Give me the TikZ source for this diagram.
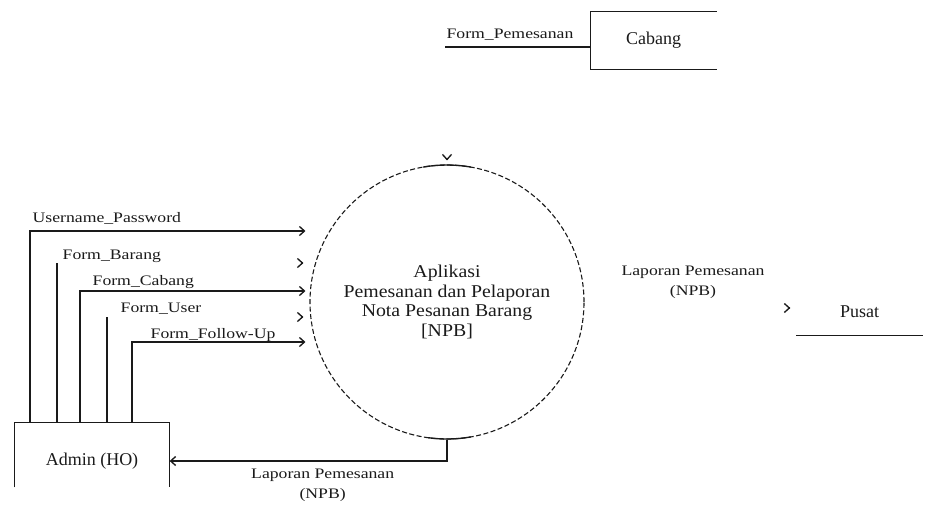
\documentclass[tikz,border=0pt]{standalone}
\usepackage{fontspec}
\setmainfont{Liberation Serif}
\newfontfamily\flowfont{Liberation Serif}[FakeStretch=1.22]
\newfontfamily\procfont{Liberation Serif}[FakeStretch=1.1]
\usetikzlibrary{arrows.meta,calc}
\definecolor{ink}{HTML}{1A1A1A}

\begin{document}
\begin{tikzpicture}[
  x=1pt, y=1pt,
  color=ink,
  line width=1.35pt,
  >={Straight Barb[length=5pt,width=9pt]},
  entity/.style={inner sep=0pt, font=\fontsize{18}{20}\selectfont},
  process/.style={circle, draw, line width=1.1pt, dash pattern=on 5pt off 2.5pt, minimum size=274pt, inner sep=0pt, align=center, font=\procfont\fontsize{18}{19.5}\selectfont},
  flow/.style={->},
  flowlabel/.style={inner sep=0pt, align=center, font=\flowfont\fontsize{14.5}{20}\selectfont}
]
\def\tipgap{4}
\useasboundingbox (0,0) rectangle (925,-504);

% process
\node[process] (npb) at (447,-302) {Aplikasi\\Pemesanan dan Pelaporan\\Nota Pesanan Barang\\{[NPB]}};
\draw ([shift={(100:137)}]npb.center) arc[start angle=100, end angle=80, radius=137];
\draw ([shift={(262:137)}]npb.center) arc[start angle=262, end angle=280, radius=137];
\draw[flow] ($(npb.north)+(0,4.5)$) -- ++(0,-0.5);

% Cabang
\node[entity, minimum width=125pt, minimum height=57pt] (cabang) at (653.5,-40.5) {Cabang};
\draw (cabang.north east) -- (cabang.north west) -- (cabang.south west) -- (cabang.south east);
\coordinate (pemesananStart) at (445,-47);
\draw (pemesananStart) -- (pemesananStart -| cabang.west);
\node[flowlabel, anchor=base] at ($(pemesananStart)+(65,9)$) {Form\_Pemesanan};

% Pusat
\node[entity, minimum width=125pt, minimum height=46pt] (pusat) at (859.5,-312) {Pusat};
\draw (pusat.south west) -- (pusat.south east);
\draw[flow] ($(pusat.west)+(-6.5,4)$) -- ++(0.5,0);
\node[flowlabel] at (693,-282) {Laporan Pemesanan\\(NPB)};

% Admin (HO)
\node[entity, minimum width=154pt, minimum height=76pt] (admin) at (92,-461) {Admin (HO)};
\draw ($(admin.north west)+(0,-65)$) -- (admin.north west) -- (admin.north east) -- ++(0,-65);

% inputs from admin
\coordinate (userpassTurn) at (30,-231);
\coordinate (barangTurn) at (57,-263);
\coordinate (cabangTurn) at (80,-291);
\coordinate (userTurn) at (107,-317);
\coordinate (followTurn) at (132,-342);

\draw[flow] (userpassTurn |- admin.north) -- (userpassTurn) -- ($(userpassTurn -| npb.west)+(-\tipgap,0)$);
\node[flowlabel, anchor=base west] at ($(userpassTurn)+(2,9)$) {Username\_Password};

\draw (barangTurn |- admin.north) -- (barangTurn);
\draw[flow] ($(barangTurn -| npb.west)+(-\tipgap-2.5,0)$) -- ++(0.5,0);
\node[flowlabel, anchor=base west] at ($(barangTurn)+(5,3.5)$) {Form\_Barang};

\draw[flow] (cabangTurn |- admin.north) -- (cabangTurn) -- ($(cabangTurn -| npb.west)+(-\tipgap,0)$);
\node[flowlabel, anchor=base west] at ($(cabangTurn)+(12,6)$) {Form\_Cabang};

\draw (userTurn |- admin.north) -- (userTurn);
\draw[flow] ($(userTurn -| npb.west)+(-\tipgap-2.5,0)$) -- ++(0.5,0);
\node[flowlabel, anchor=base west] at ($(userTurn)+(13,5)$) {Form\_User};

\draw[flow] (followTurn |- admin.north) -- (followTurn) -- ($(followTurn -| npb.west)+(-\tipgap,0)$);
\node[flowlabel, anchor=base west] at ($(followTurn)+(18,4)$) {Form\_Follow-Up};

% report back to admin
\draw[flow] (npb.south) |- (admin.east);
\node[flowlabel, anchor=north] at ($(admin.east)+(153,-7)$) {Laporan Pemesanan\\(NPB)};

\end{tikzpicture}
\end{document}
